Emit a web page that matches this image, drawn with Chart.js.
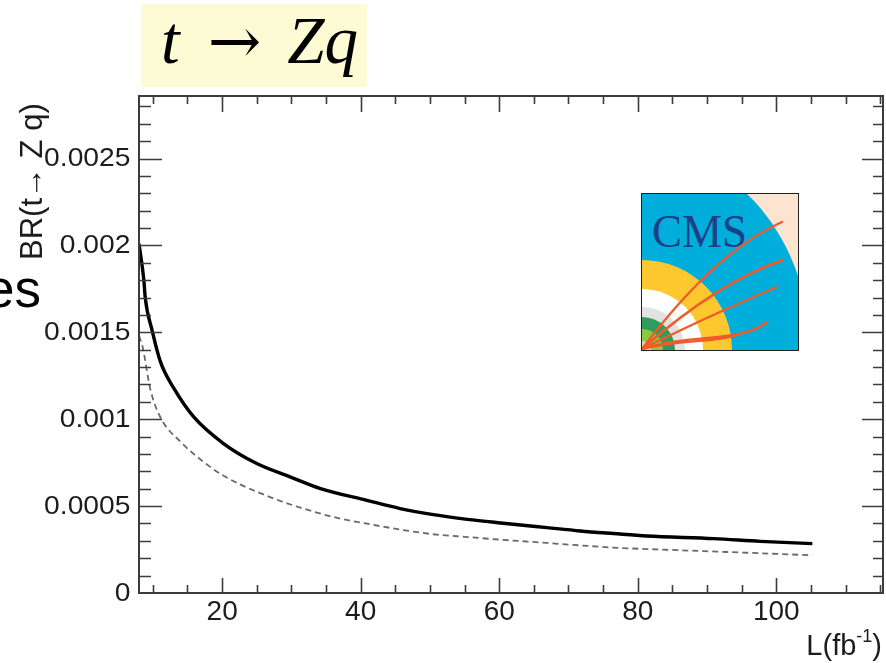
<!DOCTYPE html>
<html>
<head>
<meta charset="utf-8">
<title>BR(t → Z q) vs luminosity</title>
<script src="https://cdn.jsdelivr.net/npm/chart.js"></script>
<style>
  body { margin: 0; background: #fff; font-family: "Liberation Sans", Arial, sans-serif; }
  #wrap { position: relative; width: 886px; height: 663px; overflow: hidden; }
  #chart-box { position: absolute; left: 0; top: 0; width: 886px; height: 663px; }
  .title-box { position: absolute; left: 141px; top: 4px; width: 226px; height: 83px; background: #fdfbd4; }
  .math { position: absolute; left: 161px; top: 6px; font-size: 67px; line-height: 67px; white-space: pre; color: #000; }
  .mi { font-family: "Liberation Serif", serif; font-style: italic; }
  .ar { font-family: "DejaVu Serif", serif; font-size: 64px; margin-left: 28px; margin-right: 26px; }
  .side { position: absolute; left: -15px; top: 262px; font-size: 53px; line-height: 1; color: #000; }
  #cms { position: absolute; left: 641px; top: 193px; }
</style>
</head>
<body>
<div id="wrap">
  <div class="title-box"></div>
  <div class="math"><span class="mi">t</span><span class="ar">→</span><span class="mi">Zq</span></div>
  <div class="side">es</div>
  <div id="chart-box"><canvas id="chart"></canvas></div>
  <svg id="cms" width="158" height="158" viewBox="0 0 158 158">
    <rect x="0" y="0" width="158" height="158" fill="#fde4d0"/>
    <ellipse cx="1" cy="157" rx="168" ry="200" fill="#00aedb"/>
    <circle cx="1" cy="157" r="90" fill="#fdc82f"/>
    <circle cx="1" cy="157" r="61" fill="#ffffff"/>
    <circle cx="1" cy="157" r="43" fill="#e2e2e2"/>
    <circle cx="1" cy="157" r="33" fill="#2e9d5b"/>
    <circle cx="1" cy="157" r="21" fill="#8dc63f"/>
    <circle cx="1" cy="157" r="9" fill="#cfd8c0"/>
    <text x="11" y="54" font-family="Liberation Serif, serif" font-size="47" fill="#1d3f86" textLength="95" lengthAdjust="spacingAndGlyphs">CMS</text>
    <g fill="none" stroke="#f15a29" stroke-width="2.4" stroke-linecap="round">
      <path d="M1,156 Q74,59 141,29"/>
      <path d="M1,156 Q79,88 142,67"/>
      <path d="M1,156 Q76,119 136,94"/>
      <path d="M1,156 C50,140 100,150 126,129"/>
      <path d="M1,156 C40,146 70,150 96,142"/>
    </g>
    <rect x="0.5" y="0.5" width="157" height="157" fill="none" stroke="#222" stroke-width="1"/>
  </svg>
</div>

<script>
// luminosity (fb^-1) and limit on BR(t -> Zq), solid curve
const solidL = [8, 8.7, 8.9, 9.9, 11.1, 13, 15.9, 20.2, 25, 29.9, 34.2, 40.9, 45.7, 50.5, 55.4, 60.2, 66.9, 71.7, 76.5, 81.3, 91, 97.7, 105.2];
const solidBR = [0.00201, 0.0018, 0.0017, 0.00151, 0.00133, 0.00118, 0.001013, 0.00086, 0.000745, 0.000667, 0.000601, 0.000533, 0.000486, 0.000451, 0.000424, 0.000403, 0.000376, 0.000357, 0.000342, 0.000328, 0.000313, 0.000297, 0.000284];

// dashed curve
const dashL = [8, 8.5, 9.65, 11.1, 14, 17.8, 20, 22.6, 27.5, 31.3, 36.1, 40.9, 45.7, 50.5, 55.4, 60.2, 66.9, 71.7, 76.5, 86.1, 92.9, 105.2];
const dashBR = [0.00148, 0.00142, 0.00117, 0.00101, 0.00087, 0.00074, 0.00068, 0.000625, 0.000543, 0.000491, 0.000437, 0.000399, 0.000365, 0.000338, 0.000322, 0.000307, 0.000288, 0.000274, 0.000261, 0.000246, 0.000236, 0.000217];

// axis ticks
const xTicks = [20, 40, 60, 80, 100];
const yTicks = [0, 0.0005, 0.001, 0.0015, 0.002, 0.0025];
const yTickText = ['0', '0.0005', '0.001', '0.0015', '0.002', '0.0025'];

function toPoints(xs, ys) {
  return xs.map((v, i) => ({ x: v, y: ys[i] }));
}

// ROOT-style frame: inward ticks on all four sides, labels drawn by hand
const rootFrame = {
  id: 'rootFrame',
  afterDatasetsDraw(chart) {
    const { ctx, chartArea: a, scales: { x, y } } = chart;
    ctx.save();
    ctx.strokeStyle = '#3c3c3c';
    ctx.lineWidth = 2;
    ctx.strokeRect(a.left, a.top, a.right - a.left, a.bottom - a.top);

    ctx.lineWidth = 1.6;
    ctx.beginPath();
    for (let i = 2; i * 5 <= x.max; i++) {
      const v = i * 5;
      const px = Math.round(x.getPixelForValue(v)) + 0.5;
      const major = v % 20 === 0;
      const lb = major ? 15 : 8;
      const lt = major ? 16 : 8;
      ctx.moveTo(px, a.bottom); ctx.lineTo(px, a.bottom - lb);
      ctx.moveTo(px, a.top); ctx.lineTo(px, a.top + lt);
    }
    for (let i = 1; i * 0.0001 <= y.max; i++) {
      const py = Math.round(y.getPixelForValue(i * 0.0001)) + 0.5;
      const major = i % 5 === 0;
      const ll = major ? 23 : 12;
      const lr = major ? 21 : 10;
      ctx.moveTo(a.left, py); ctx.lineTo(a.left + ll, py);
      ctx.moveTo(a.right, py); ctx.lineTo(a.right - lr, py);
    }
    ctx.stroke();

    ctx.fillStyle = '#1c1c1c';
    // y tick labels, slightly wide
    ctx.font = '25px "Liberation Sans", Arial, sans-serif';
    ctx.textAlign = 'right';
    ctx.textBaseline = 'middle';
    yTicks.forEach((v, i) => {
      ctx.save();
      ctx.translate(130.5, y.getPixelForValue(v) + 1);
      ctx.scale(1.13, 1);
      ctx.fillText(yTickText[i], 0, 0);
      ctx.restore();
    });

    // x tick labels
    ctx.font = '28px "Liberation Sans", Arial, sans-serif';
    ctx.textAlign = 'center';
    ctx.textBaseline = 'alphabetic';
    xTicks.forEach(v => ctx.fillText(String(v), x.getPixelForValue(v), 620));

    // x axis title L(fb^-1), right aligned to the frame
    const big = '29px "Liberation Sans", Arial, sans-serif';
    const small = '18px "Liberation Sans", Arial, sans-serif';
    ctx.textAlign = 'left';
    ctx.font = big;
    const wClose = ctx.measureText(')').width;
    const wHead = ctx.measureText('L(fb').width;
    ctx.font = small;
    const wSup = ctx.measureText('-1').width;
    let tx = 882 - wClose - wSup - wHead;
    ctx.font = big;
    ctx.fillText('L(fb', tx, 655);
    tx += wHead;
    ctx.font = small;
    ctx.fillText('-1', tx, 642);
    tx += wSup;
    ctx.font = big;
    ctx.fillText(')', tx, 655);

    // y axis title, rotated, top aligned
    ctx.save();
    ctx.translate(42, 260);
    ctx.rotate(-Math.PI / 2);
    ctx.font = '31px "Liberation Sans", Arial, sans-serif';
    ctx.textAlign = 'left';
    ctx.fillText('BR(t\u2192 Z q)', 0, 0);
    ctx.restore();

    ctx.restore();
  }
};

const ctx = document.getElementById('chart').getContext('2d');
new Chart(ctx, {
  type: 'line',
  data: {
    datasets: [
      {
        label: 'limit',
        data: toPoints(solidL, solidBR),
        borderColor: '#000',
        borderWidth: 3.4,
        cubicInterpolationMode: 'monotone',
        pointRadius: 0,
        fill: false
      },
      {
        label: 'limit (dashed)',
        data: toPoints(dashL, dashBR),
        borderColor: '#6a6a6a',
        borderWidth: 1.8,
        borderDash: [6, 4],
        cubicInterpolationMode: 'monotone',
        pointRadius: 0,
        fill: false
      }
    ]
  },
  options: {
    responsive: true,
    maintainAspectRatio: false,
    animation: false,
    layout: { padding: { left: 139, right: 3, top: 96, bottom: 70 } },
    plugins: { legend: { display: false }, tooltip: { enabled: false } },
    scales: {
      x: { type: 'linear', min: 8, max: 115.4, display: false },
      y: { type: 'linear', min: 0, max: 0.00286, display: false }
    }
  },
  plugins: [rootFrame]
});
</script>
</body>
</html>
